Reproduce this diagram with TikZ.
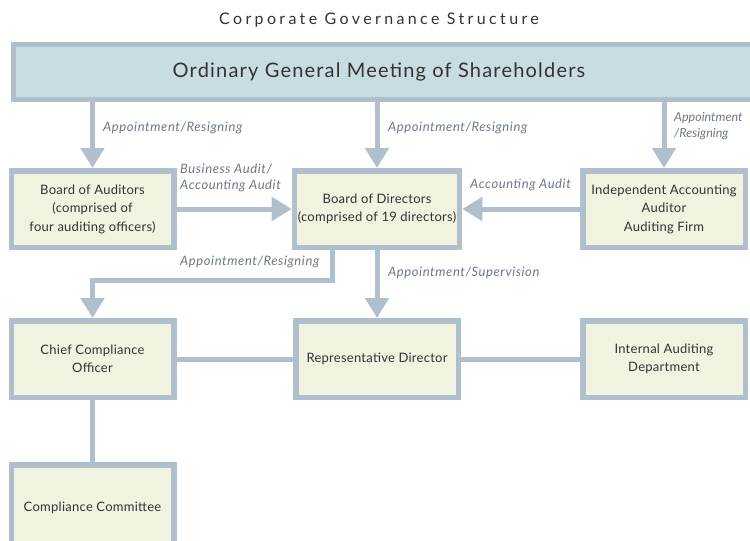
\documentclass[tikz,border=0pt]{standalone}
\usepackage{fontspec}
\setmainfont{Lato}
\newfontfamily\spacedfont[LetterSpace=21]{Lato}
\newfontfamily\barfont[LetterSpace=6]{Lato}
\newfontfamily\boxfont[LetterSpace=2]{Lato}
\newfontfamily\tagfont[LetterSpace=4.5]{Lato}
\usetikzlibrary{arrows.meta,positioning}

\definecolor{edge}{HTML}{B0BFCC}
\definecolor{headfill}{HTML}{C9DCE2}
\definecolor{cell}{HTML}{EFF3DF}
\definecolor{ink}{HTML}{333333}
\definecolor{note}{HTML}{6C7886}

\tikzset{
  unit/.style={draw=edge, fill=cell, line width=5.5pt, minimum width=162.5pt,
    minimum height=76.5pt, align=center, text=ink, font=\boxfont\fontsize{13}{18.5}\selectfont},
  flow/.style={draw=edge, line width=5pt, -{Triangle[width=23pt,length=20pt]}},
  link/.style={draw=edge, line width=5pt},
  tag/.style={anchor=west, text=note, align=left, inner sep=0pt,
    font=\tagfont\fontsize{13}{16.5}\selectfont\itshape}
}

\begin{document}
\begin{tikzpicture}[x=1pt,y=-1pt]
\useasboundingbox (0,0) rectangle (750,541);
\clip (0,0) rectangle (750,541);

% heading
\node[text=ink, font=\spacedfont\fontsize{16}{18}\selectfont] (title) at (379,20) {Corporate Governance Structure};

% shareholders bar
\node[draw=edge, fill=headfill, line width=5.5pt, minimum width=750pt, minimum height=55pt,
  anchor=west] (agm) at (10.5,72) {};
\node[text=ink, font=\barfont\fontsize{20}{22}\selectfont] (agmtext) at (379,72) {Ordinary General Meeting of Shareholders};

% first row
\node[unit] (aud) at (92.5,209) {Board of Auditors\\(comprised of\\four auditing officers)};
\node[unit] (dir) at (377,209) {Board of Directors\\(comprised of 19 directors)};
\node[unit] (ext) at (664,209) {Independent Accounting\\Auditor\\Auditing Firm};

% second row
\node[unit] (cco) at (92.5,359) {Chief Compliance\\Officer};
\node[unit] (rep) at (377,359) {Representative Director};
\node[unit] (iad) at (664,359) {Internal Auditing\\Department};

% compliance committee, runs off the bottom
\node[unit, minimum height=82pt] (comm) at (92.5,506) {};
\node[text=ink, font=\boxfont\fontsize{13}{18.5}\selectfont] (commtext) at (92.5,508) {Compliance Committee};

% appointments from the meeting
\draw[flow] (agm.south -| aud) -- (aud);
\draw[flow] (agm.south -| dir) -- (dir);
\draw[flow] (agm.south -| ext) -- (ext);

% audits into the board
\draw[flow] (aud) -- (dir);
\draw[flow] (ext) -- (dir);

% from the board downwards
\coordinate (bend) at (332,280);
\draw[flow] (bend |- dir.south) -- (bend) -| (cco.north);
\draw[flow] (dir) -- (rep);

% plain links
\draw[link] (cco) -- (rep);
\draw[link] (rep) -- (iad);
\draw[link] (cco) -- (comm);

% labels
\node[tag] (l1) at (103,128) {Appointment/Resigning};
\node[tag] (l2) at (388,128) {Appointment/Resigning};
\node[tag, font=\fontsize{12.5}{16.5}\selectfont\itshape] (l3) at (674,126) {Appointment\\/Resigning};
\node[tag] (l4) at (180,178) {Business Audit/\\Accounting Audit};
\node[tag] (l5) at (470,185) {Accounting Audit};
\node[tag] (l6) at (180,262) {Appointment/Resigning};
\node[tag] (l7) at (388,273) {Appointment/Supervision};
\end{tikzpicture}
\end{document}
